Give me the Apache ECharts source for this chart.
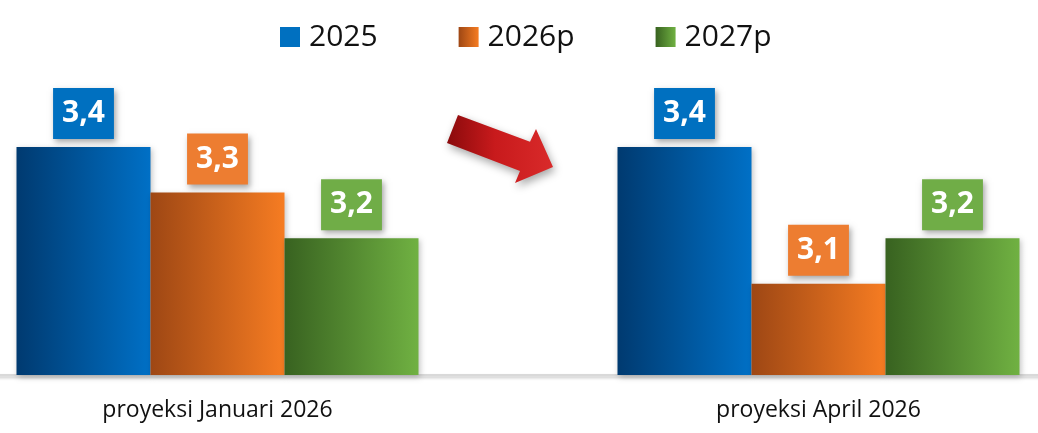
<!DOCTYPE html>
<html>
<head>
<meta charset="utf-8">
<script src="https://cdn.jsdelivr.net/npm/echarts@6/dist/echarts.min.js"></script>
<style>
html,body{margin:0;padding:0;background:#fff;}
#chart{width:1038px;height:433px;}
</style>
</head>
<body>
<div id="chart"></div>
<script>
const categories = ['proyeksi Januari 2026', 'proyeksi April 2026'];
const seriesNames = ['2025', '2026p', '2027p'];
const values2025 = [3.4, 3.4];
const values2026p = [3.3, 3.1];
const values2027p = [3.2, 3.2];

const palette = [
  { dark: '#003a70', light: '#0070c6', box: '#0070c0' },
  { dark: '#9e4714', light: '#f67c22', box: '#ed7d31' },
  { dark: '#386220', light: '#70b142', box: '#70ad47' }
];
const seriesValues = [values2025, values2026p, values2027p];

const chart = echarts.init(document.getElementById('chart'));
const grad = (p) => new echarts.graphic.LinearGradient(0, 0, 1, 0, [
  { offset: 0, color: p.dark }, { offset: 1, color: p.light }
]);

const option = {
  animation: false,
  backgroundColor: '#ffffff',
  legend: {
    top: 17,
    left: 275,
    itemWidth: 20,
    itemHeight: 20,
    itemGap: 81,
    icon: 'rect',
    textStyle: { fontFamily: 'Open Sans', fontSize: 30, color: '#111', padding: [0, 0, 0, 4] },
    data: seriesNames.map((n, i) => ({
      name: n,
      itemStyle: i === 0 ? { color: palette[0].box } : { color: grad(palette[i]) }
    }))
  },
  grid: { left: -83, right: -81, top: 101.4, bottom: 58, containLabel: false, outerBoundsMode: 'none' },
  xAxis: {
    type: 'category',
    data: categories,
    axisTick: { show: false },
    axisLine: { lineStyle: { color: '#d9d9d9', width: 2, shadowColor: 'rgba(0,0,0,0.25)', shadowBlur: 3, shadowOffsetY: 2 } },
    axisLabel: { fontFamily: 'Open Sans', fontSize: 23, color: '#111', margin: 24 }
  },
  yAxis: {
    type: 'value', min: 2.9, max: 3.5, show: false,
    splitLine: { show: false }
  },
  series: seriesNames.map((n, i) => ({
    name: n,
    type: 'bar',
    data: seriesValues[i],
    barWidth: 134,
    barGap: '0%',
    itemStyle: {
      color: grad(palette[i]),
      shadowColor: 'rgba(0,0,0,0.25)', shadowBlur: 6, shadowOffsetX: 1, shadowOffsetY: 2
    },
    label: {
      show: true,
      position: 'top',
      distance: 8,
      formatter: (p) => p.value.toFixed(1).replace('.', ','),
      color: '#ffffff',
      fontFamily: 'Open Sans',
      fontWeight: 'bold',
      fontSize: 30,
      lineHeight: 35,
      padding: [8, 9, 8, 9],
      backgroundColor: palette[i].box,
      shadowColor: 'rgba(0,0,0,0.35)', shadowBlur: 6, shadowOffsetX: 2, shadowOffsetY: 3
    }
  })),
  graphic: [{
    type: 'polygon',
    shape: { points: [[458,115],[530,141.7],[536,129],[553,167],[515,183],[520,171],[447,143]] },
    style: {
      fill: new echarts.graphic.LinearGradient(0, 0, 1, 0, [
        { offset: 0, color: '#8a0a0c' }, { offset: 0.45, color: '#c81a1c' }, { offset: 1, color: '#d92a2a' }
      ]),
      shadowColor: 'rgba(0,0,0,0.35)', shadowBlur: 8, shadowOffsetX: 2, shadowOffsetY: 4
    }
  }]
};
chart.setOption(option);
</script>
</body>
</html>
